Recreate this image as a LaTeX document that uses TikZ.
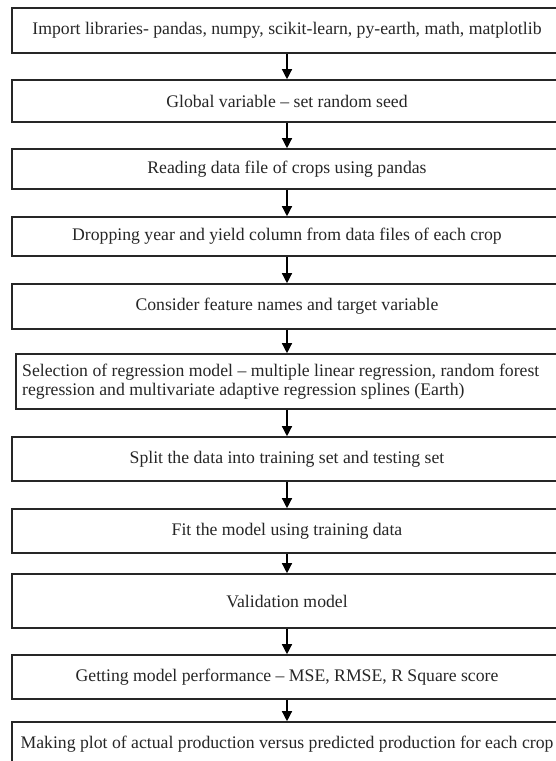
\documentclass[tikz,border=0pt]{standalone}
\usepackage{fontspec}
\setmainfont{Liberation Serif}
\usetikzlibrary{arrows.meta}
\tikzset{
  stepbox/.style={draw=black!85, line width=1.6pt, rectangle, inner sep=0pt,
    minimum width=550pt, font=\fontsize{17.7}{19}\selectfont, text=black!85},
  arr/.style={draw=black, line width=1.3pt, -{Triangle[width=10pt,length=10pt]}}
}
\begin{document}
\begin{tikzpicture}[x=1pt,y=-1pt]
\useasboundingbox (0,0) rectangle (556,761);
\clip (0,0) rectangle (556,761);
\coordinate (ax) at (287,0);
\node[stepbox, minimum height=45pt] (b1) at (287,30.5) {Import libraries- pandas, numpy, scikit-learn, py-earth, math, matplotlib};
\node[stepbox, minimum height=42pt] (b2) at (287,101) {Global variable -- set random seed};
\node[stepbox, minimum height=40pt] (b3) at (287,169) {Reading data file of crops using pandas};
\node[stepbox, minimum height=39pt] (b4) at (287,236.5) {Dropping year and yield column from data files of each crop};
\node[stepbox, minimum height=45pt] (b5) at (287,306.5) {Consider feature names and target variable};
\node[stepbox, minimum height=55pt, minimum width=546pt] (b6) at (289,381.5) {};
\node[font=\fontsize{17.7}{19}\selectfont, text=black!85, align=left, anchor=west, inner sep=0pt] (t6) at (22,381.5) {Selection of regression model -- multiple linear regression, random forest\\regression and multivariate adaptive regression splines (Earth)};
\node[stepbox, minimum height=44pt] (b7) at (287,459) {Split the data into training set and testing set};
\node[stepbox, minimum height=44pt] (b8) at (287,531) {Fit the model using training data};
\node[stepbox, minimum height=54pt] (b9) at (287,601) {Validation model};
\node[stepbox, minimum height=44pt] (b10) at (287,677) {Getting model performance -- MSE, RMSE, R Square score};
\node[stepbox, minimum height=44pt] (b11) at (287,744) {Making plot of actual production versus predicted production for each crop};
\foreach \a/\b in {b1/b2,b2/b3,b3/b4,b4/b5,b5/b6,b6/b7,b7/b8,b8/b9,b9/b10,b10/b11}
  \draw[arr] (\a.south -| ax) -- (\b.north -| ax);
\end{tikzpicture}
\end{document}
